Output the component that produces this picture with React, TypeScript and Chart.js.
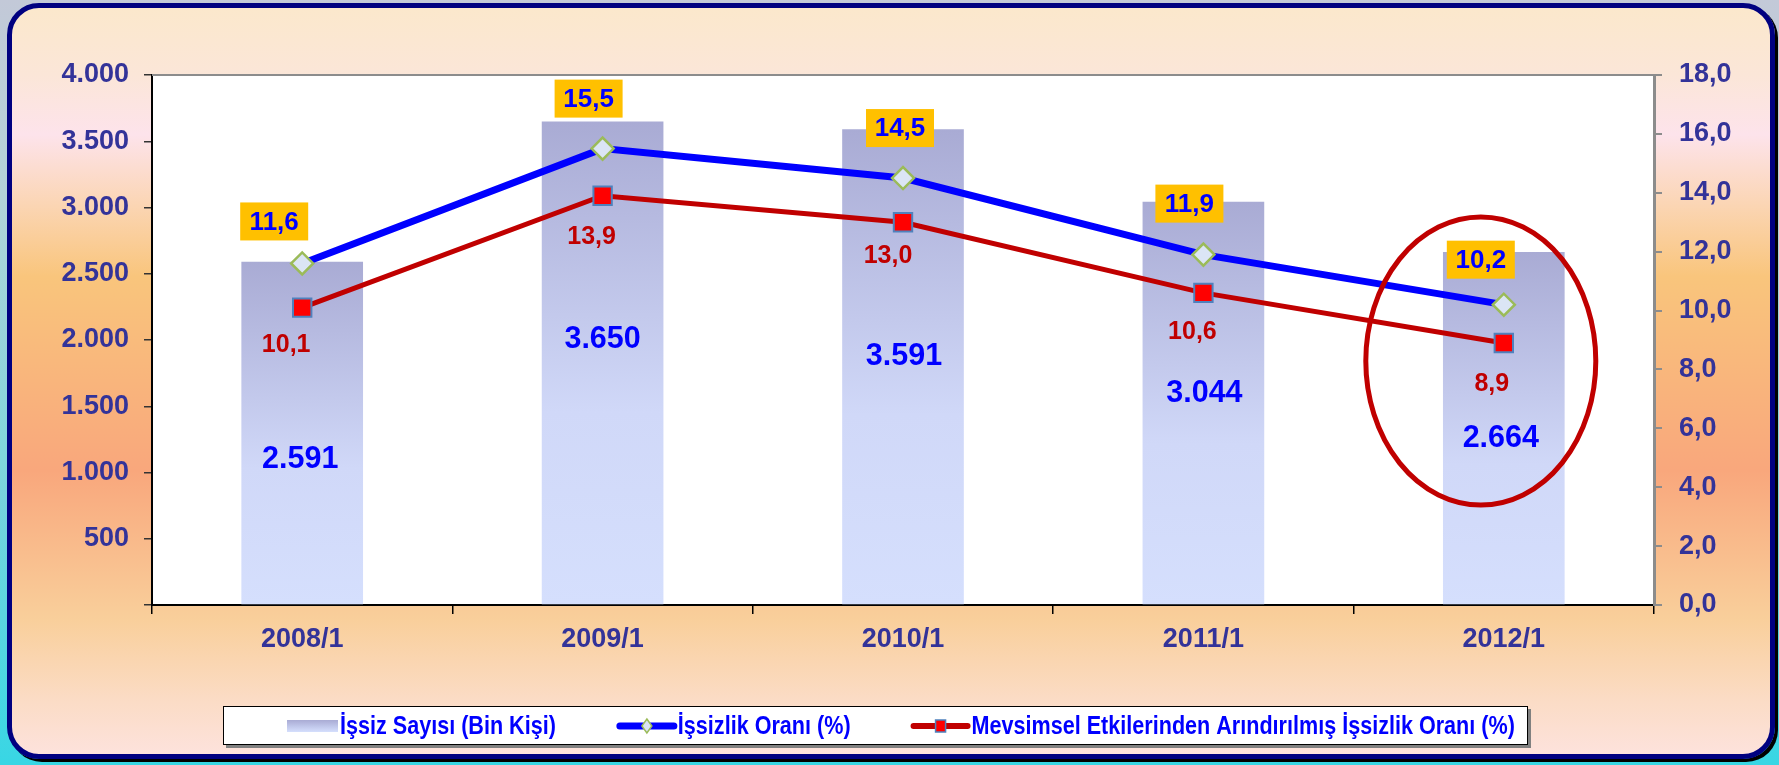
import React, { useEffect, useRef } from 'react';
import { Chart, registerables } from 'chart.js';

Chart.register(...registerables);

// ---------- data ----------
const categories = ['2008/1', '2009/1', '2010/1', '2011/1', '2012/1'];
const unemployedThousands = [2591, 3650, 3591, 3044, 2664];
const unemploymentRate = [11.6, 15.5, 14.5, 11.9, 10.2];
const seasonallyAdjustedRate = [10.1, 13.9, 13.0, 10.6, 8.9];
const leftTicks = { min: 0, max: 4000, step: 500 };
const rightTicks = { min: 0, max: 18, step: 2 };
const seriesNames = [
  'İşsiz Sayısı (Bin Kişi)',
  'İşsizlik Oranı (%)',
  'Mevsimsel Etkilerinden Arındırılmış İşsizlik Oranı (%)',
];

// ---------- label placement (pixel offsets, styling only) ----------
const rateLabelOffsets = [[-28, -42], [-14, -50], [-3, -50], [-14, -51], [-23, -45]];
const saLabelOffsets = [[-16, 37], [-11, 41], [-15, 34], [-11, 39], [-12, 41]];
const barLabelOffsets = [[-2, 27], [0, -23], [1, -10], [1, -9], [-3, 10]];

const FAMILY = '"Liberation Sans", Arial, Helvetica, sans-serif';
const AXIS_COLOR = '#333399';

const fmtThousands = (v: number) => {
  const s = String(Math.round(v));
  return s.replace(/\B(?=(\d{3})+(?!\d))/g, '.');
};
const fmtRate = (v: number) => v.toFixed(1).replace('.', ',');

const barFill = (c: any) => {
  const chart = c.chart;
  const area = chart.chartArea;
  if (!area || typeof c.raw !== 'number') return '#c4cbee';
  const top = chart.scales.y.getPixelForValue(c.raw);
  const g = chart.ctx.createLinearGradient(0, top, 0, area.bottom);
  g.addColorStop(0, '#a9abd4');
  g.addColorStop(0.6, '#d0d8f8');
  g.addColorStop(1, '#d5dffd');
  return g;
};

// narrow (condensed) text: Arial-metric bold, compressed horizontally
const NARROW = 0.83;
function narrowText(ctx: CanvasRenderingContext2D, text: string, x: number, y: number) {
  ctx.save();
  ctx.translate(x, y);
  ctx.scale(NARROW, 1);
  ctx.fillText(text, 0, 0);
  ctx.restore();
  return ctx.measureText(text).width * NARROW;
}

const decorPlugin = {
  id: 'decor',
  beforeDraw(chart: any) {
    const { ctx, chartArea: a } = chart;
    ctx.save();
    ctx.fillStyle = '#ffffff';
    ctx.fillRect(a.left, a.top, a.right - a.left, a.bottom - a.top);
    ctx.restore();
  },
  afterDatasetsDraw(chart: any) {
    const { ctx, chartArea: a } = chart;
    ctx.save();
    // top border of plot area
    ctx.strokeStyle = '#8c8c8c';
    ctx.lineWidth = 2;
    ctx.beginPath();
    ctx.moveTo(a.left, a.top);
    ctx.lineTo(a.right, a.top);
    ctx.stroke();

    const bars = chart.getDatasetMeta(0).data;
    const rate = chart.getDatasetMeta(1).data;
    const sa = chart.getDatasetMeta(2).data;

    ctx.textAlign = 'center';
    ctx.textBaseline = 'middle';

    // bar value labels
    ctx.font = `bold 30.5px ${FAMILY}`;
    ctx.fillStyle = '#0000ff';
    bars.forEach((el: any, i: number) => {
      const mid = (el.y + el.base) / 2;
      const [dx, dy] = barLabelOffsets[i];
      ctx.fillText(fmtThousands(unemployedThousands[i]), el.x + dx, mid + dy);
    });

    // seasonally adjusted labels
    ctx.font = `bold 25px ${FAMILY}`;
    ctx.fillStyle = '#c00000';
    sa.forEach((el: any, i: number) => {
      const [dx, dy] = saLabelOffsets[i];
      ctx.fillText(fmtRate(seasonallyAdjustedRate[i]), el.x + dx, el.y + dy);
    });

    // rate labels in gold boxes
    rate.forEach((el: any, i: number) => {
      const [dx, dy] = rateLabelOffsets[i];
      const cx = el.x + dx;
      const cy = el.y + dy;
      ctx.fillStyle = '#ffc000';
      ctx.fillRect(cx - 34, cy - 19, 68, 38);
      ctx.font = `bold 26px ${FAMILY}`;
      ctx.fillStyle = '#0000ff';
      ctx.fillText(fmtRate(unemploymentRate[i]), cx, cy + 1);
    });

    // highlight ellipse around the last category
    const last = bars[bars.length - 1];
    ctx.strokeStyle = '#c00000';
    ctx.lineWidth = 5;
    ctx.beginPath();
    ctx.ellipse(last.x - 23, a.top + 286, 115, 144, 0, 0, Math.PI * 2);
    ctx.stroke();
    ctx.restore();
  },
  afterDraw(chart: any) {
    const { ctx } = chart;
    ctx.save();
    const L = 223, T = 706, W = 1305, H = 39;
    ctx.fillStyle = '#808080';
    ctx.fillRect(L + 3, T + 3, W, H);
    ctx.fillStyle = '#ffffff';
    ctx.fillRect(L, T, W, H);
    ctx.strokeStyle = '#000000';
    ctx.lineWidth = 1;
    ctx.strokeRect(L + 0.5, T + 0.5, W - 1, H - 1);

    const cy = T + H / 2 + 0.5;
    ctx.font = `bold 26px ${FAMILY}`;
    ctx.textAlign = 'left';
    ctx.textBaseline = 'middle';
    let x = 287;

    // item 1: bar swatch
    const g = ctx.createLinearGradient(0, cy - 6, 0, cy + 6);
    g.addColorStop(0, '#a9abd4');
    g.addColorStop(1, '#d5dffd');
    ctx.fillStyle = g;
    ctx.fillRect(x, cy - 6, 51, 12);
    x += 53;
    ctx.fillStyle = '#0000ff';
    x += narrowText(ctx, seriesNames[0], x, cy + 1) + 60;

    // item 2: blue line with diamond
    ctx.strokeStyle = '#0000ff';
    ctx.lineWidth = 7;
    ctx.lineCap = 'round';
    ctx.beginPath();
    ctx.moveTo(x + 4, cy);
    ctx.lineTo(x + 58, cy);
    ctx.stroke();
    ctx.beginPath();
    ctx.moveTo(x + 31, cy - 7);
    ctx.lineTo(x + 36, cy);
    ctx.lineTo(x + 31, cy + 7);
    ctx.lineTo(x + 26, cy);
    ctx.closePath();
    ctx.fillStyle = '#dbe5f5';
    ctx.fill();
    ctx.strokeStyle = '#9bbb59';
    ctx.lineWidth = 1.5;
    ctx.stroke();
    x += 62;
    ctx.fillStyle = '#0000ff';
    x += narrowText(ctx, seriesNames[1], x, cy + 1) + 59;

    // item 3: red line with square
    ctx.strokeStyle = '#c00000';
    ctx.lineWidth = 6;
    ctx.beginPath();
    ctx.moveTo(x + 4, cy);
    ctx.lineTo(x + 58, cy);
    ctx.stroke();
    ctx.fillStyle = '#ff0000';
    ctx.fillRect(x + 26, cy - 6, 10, 12);
    ctx.strokeStyle = '#4f81bd';
    ctx.lineWidth = 1.5;
    ctx.strokeRect(x + 26, cy - 6, 10, 12);
    x += 62;
    ctx.fillStyle = '#0000ff';
    narrowText(ctx, seriesNames[2], x, cy + 1);
    ctx.restore();
  },
};

export default function App() {
  const ref = useRef<HTMLCanvasElement>(null);

  useEffect(() => {
    document.body.style.margin = '0';
    document.body.style.overflow = 'hidden';
    const canvas = ref.current;
    if (!canvas) return;
    const tickFont = { family: FAMILY, size: 27, weight: 'bold' as const };
    const chart = new Chart(canvas, {
      data: {
        labels: categories,
        datasets: [
          {
            type: 'bar',
            label: seriesNames[0],
            data: unemployedThousands,
            yAxisID: 'y',
            order: 3,
            backgroundColor: barFill,
            borderWidth: 0,
            barPercentage: 0.405,
            categoryPercentage: 1,
          },
          {
            type: 'line',
            label: seriesNames[1],
            data: unemploymentRate,
            yAxisID: 'y1',
            order: 1,
            borderColor: '#0000ff',
            borderWidth: 7,
            tension: 0,
            fill: false,
            pointStyle: 'rectRot',
            pointRadius: 11,
            pointBackgroundColor: '#dbe5f5',
            pointBorderColor: '#9bbb59',
            pointBorderWidth: 2.5,
          },
          {
            type: 'line',
            label: seriesNames[2],
            data: seasonallyAdjustedRate,
            yAxisID: 'y1',
            order: 2,
            borderColor: '#c00000',
            borderWidth: 5,
            tension: 0,
            fill: false,
            pointStyle: 'rect',
            pointRadius: 13,
            pointBackgroundColor: '#ff0000',
            pointBorderColor: '#4f81bd',
            pointBorderWidth: 2,
          },
        ],
      } as any,
      options: {
        responsive: false,
        animation: false,
        devicePixelRatio: 1,
        layout: { padding: { top: 75, left: 0, right: 0, bottom: 0 } },
        plugins: { legend: { display: false }, tooltip: { enabled: false } },
        scales: {
          x: {
            type: 'category',
            offset: true,
            grid: { offset: true, drawOnChartArea: false, drawTicks: true, tickLength: 9, color: '#000000', lineWidth: 1.5 },
            border: { display: true, color: '#000000', width: 2 },
            ticks: { color: AXIS_COLOR, font: tickFont, padding: 9, maxRotation: 0 },
            afterFit: (s: any) => { s.height = 160; },
          },
          y: {
            position: 'left',
            min: leftTicks.min,
            max: leftTicks.max,
            grid: { drawOnChartArea: false, drawTicks: true, tickLength: 8, color: '#333333', lineWidth: 1.5 },
            border: { display: true, color: '#000000', width: 2 },
            ticks: {
              stepSize: leftTicks.step,
              color: AXIS_COLOR,
              font: tickFont,
              padding: 15,
              callback: (v: any) => (Number(v) === 0 ? '' : fmtThousands(Number(v))),
            },
            afterFit: (s: any) => { s.width = 152; },
          },
          y1: {
            position: 'right',
            min: rightTicks.min,
            max: rightTicks.max,
            grid: { drawOnChartArea: false, drawTicks: true, tickLength: 8, color: '#8c8c8c', lineWidth: 2 },
            border: { display: true, color: '#8c8c8c', width: 3 },
            ticks: {
              stepSize: rightTicks.step,
              color: AXIS_COLOR,
              font: tickFont,
              padding: 17,
              callback: (v: any) => fmtRate(Number(v)),
            },
            afterFit: (s: any) => { s.width = 125; },
          },
        },
      } as any,
      plugins: [decorPlugin],
    });
    return () => chart.destroy();
  }, []);

  return (
    <div
      style={{
        position: 'relative',
        width: 1779,
        height: 765,
        overflow: 'hidden',
        background: 'linear-gradient(to bottom, #c3c9d8 0%, #b3d3d8 25%, #7fd4dc 60%, #38d6e4 100%)',
      }}
    >
      <div
        style={{
          position: 'absolute',
          left: 7,
          top: 3,
          width: 1768,
          height: 756,
          boxSizing: 'border-box',
          border: '5px solid #000080',
          borderRadius: 32,
          boxShadow: '3px 3px 0 #000000',
          background:
            'linear-gradient(to bottom, #fbe8cc 0%, #fbe6d8 9%, #fde3eb 17%, #fbd6b6 26%, #f9c57c 36%, #f9a77c 62%, #f9cf9b 82%, #fbdcc6 93%, #fde2dc 100%)',
        }}
      />
      <canvas
        ref={ref}
        width={1779}
        height={765}
        style={{ position: 'absolute', left: 0, top: 0, width: 1779, height: 765 }}
      />
    </div>
  );
}
